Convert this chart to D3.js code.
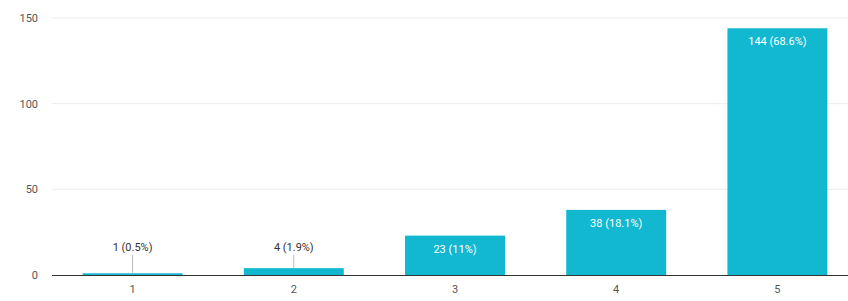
<!DOCTYPE html>
<html>
<head>
<meta charset="utf-8">
<script src="https://cdn.jsdelivr.net/npm/d3@7"></script>
<style>
  body { margin: 0; background: #fff; }
  text { font-family: Roboto, Arial, sans-serif; }
</style>
</head>
<body>
<svg id="chart" width="848" height="301"></svg>
<script>
// answers on a 1-5 scale
const categories = ['1', '2', '3', '4', '5'];
const counts = [1, 4, 23, 38, 144];
const percents = ['0.5%', '1.9%', '11%', '18.1%', '68.6%'];
const yTicks = [0, 50, 100, 150];

const svg = d3.select('#chart');
const plotLeft = 52, plotRight = 858, plotTop = 18, plotBottom = 275;

const x = d3.scaleBand()
  .domain(categories)
  .range([plotLeft, plotRight])
  .paddingInner(0.38)
  .paddingOuter(0.19);

const y = d3.scaleLinear()
  .domain([0, 150])
  .range([plotBottom, plotTop]);

// gridlines
svg.append('g')
  .selectAll('line')
  .data(yTicks.filter(d => d > 0))
  .join('line')
  .attr('x1', plotLeft)
  .attr('x2', 848)
  .attr('y1', d => y(d))
  .attr('y2', d => y(d))
  .attr('stroke', '#ebebeb')
  .attr('stroke-width', 1);

// y labels
svg.append('g')
  .selectAll('text')
  .data(yTicks)
  .join('text')
  .attr('x', 38)
  .attr('y', d => y(d) + 4)
  .attr('text-anchor', 'end')
  .attr('font-size', 11)
  .attr('fill', '#555')
  .text(d => d);

const data = categories.map((c, i) => ({ cat: c, value: counts[i], pct: percents[i] }));

// bars
svg.append('g')
  .selectAll('rect')
  .data(data)
  .join('rect')
  .attr('x', d => x(d.cat))
  .attr('y', d => y(d.value))
  .attr('width', x.bandwidth())
  .attr('height', d => plotBottom - y(d.value))
  .attr('fill', '#12b8d0');

// baseline
svg.append('line')
  .attr('x1', plotLeft)
  .attr('x2', 848)
  .attr('y1', plotBottom + 0.5)
  .attr('y2', plotBottom + 0.5)
  .attr('stroke', '#333')
  .attr('stroke-width', 1.2);

// value labels: outside (grey, with leader) for short bars, inside (white) otherwise
const inside = d => plotBottom - y(d.value) > 30;

const lab = svg.append('g');
lab.selectAll('line')
  .data(data.filter(d => !inside(d)))
  .join('line')
  .attr('x1', d => x(d.cat) + x.bandwidth() / 2)
  .attr('x2', d => x(d.cat) + x.bandwidth() / 2)
  .attr('y1', 255)
  .attr('y2', d => y(d.value))
  .attr('stroke', '#bbb')
  .attr('stroke-width', 1);

lab.selectAll('text')
  .data(data)
  .join('text')
  .attr('x', d => x(d.cat) + x.bandwidth() / 2)
  .attr('y', d => inside(d) ? y(d.value) + 17 : 251)
  .attr('text-anchor', 'middle')
  .attr('font-size', 11)
  .attr('fill', d => inside(d) ? '#fff' : '#333')
  .text(d => `${d.value} (${d.pct})`);

// x labels
svg.append('g')
  .selectAll('text')
  .data(categories)
  .join('text')
  .attr('x', d => x(d) + x.bandwidth() / 2)
  .attr('y', 293)
  .attr('text-anchor', 'middle')
  .attr('font-size', 11)
  .attr('fill', '#555')
  .text(d => d);
</script>
</body>
</html>
